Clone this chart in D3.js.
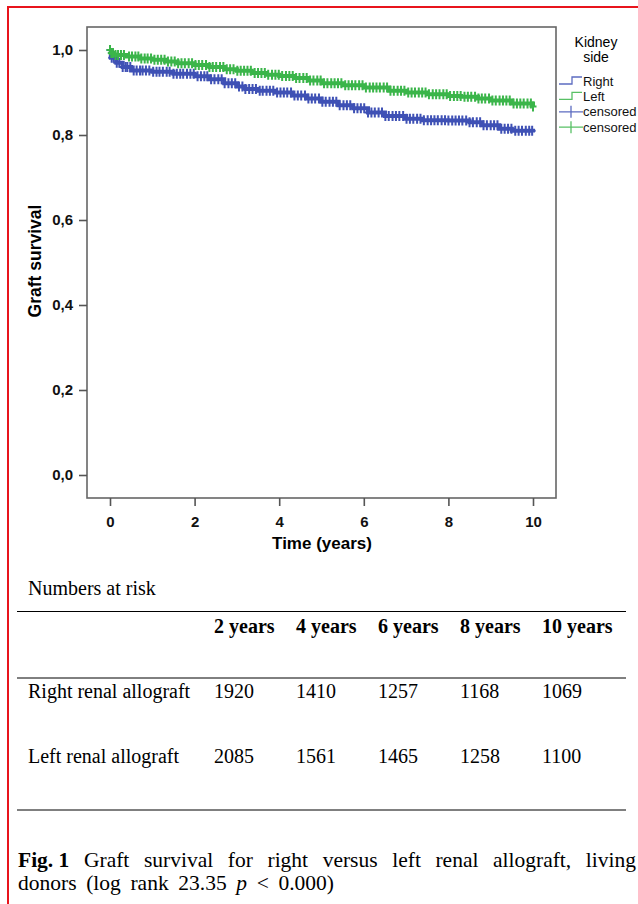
<!DOCTYPE html>
<html>
<head>
<meta charset="utf-8">
<script src="https://cdn.jsdelivr.net/npm/d3@7"></script>
<style>
body { margin: 0; background: #fff; }
</style>
</head>
<body>
<svg width="638" height="904"></svg>
<script>
// Kaplan-Meier steps
var rightTime = [0, 0.02, 0.15, 0.3, 0.5, 1.0, 1.5, 2.0, 2.35, 2.7, 3.0, 3.2, 3.5, 3.9, 4.3, 4.65, 5.0, 5.4, 5.75, 6.1, 6.5, 7.0, 7.4, 8.0, 8.5, 8.8, 9.2, 9.5, 10.0];
var rightSurv = [1.0, 0.982, 0.970, 0.960, 0.952, 0.949, 0.944, 0.938, 0.931, 0.922, 0.914, 0.908, 0.904, 0.900, 0.893, 0.886, 0.878, 0.870, 0.863, 0.853, 0.845, 0.838, 0.835, 0.834, 0.830, 0.823, 0.815, 0.810, 0.806];
var leftTime = [0, 0.02, 0.1, 0.4, 0.7, 1.0, 1.3, 1.6, 2.0, 2.35, 2.7, 3.0, 3.35, 3.7, 4.0, 4.35, 4.7, 5.0, 5.5, 6.0, 6.6, 7.0, 7.5, 8.0, 8.3, 8.7, 9.0, 9.5, 10.0];
var leftSurv = [1.0, 0.993, 0.988, 0.985, 0.980, 0.977, 0.973, 0.969, 0.965, 0.960, 0.955, 0.951, 0.946, 0.942, 0.939, 0.934, 0.928, 0.922, 0.917, 0.912, 0.904, 0.900, 0.896, 0.892, 0.890, 0.886, 0.881, 0.874, 0.867];

// censoring times
var rightCensor = [0.0, 0.04, 0.09, 0.16, 0.22, 0.3, 0.37, 0.41, 0.48, 0.56, 0.63, 0.71, 0.77, 0.85, 0.93, 1.02, 1.1, 1.17, 1.25, 1.34, 1.41, 1.5, 1.58, 1.66, 1.73, 1.82, 1.9, 1.98, 2.07, 2.15, 2.23, 2.3, 2.39, 2.47, 2.56, 2.64, 2.71, 2.8, 2.88, 2.96, 3.05, 3.13, 3.2, 3.29, 3.37, 3.45, 3.54, 3.61, 3.7, 3.78, 3.86, 3.95, 4.03, 4.11, 4.19, 4.28, 4.36, 4.44, 4.52, 4.61, 4.69, 4.77, 4.85, 4.94, 5.02, 5.1, 5.19, 5.27, 5.35, 5.43, 5.52, 5.6, 5.68, 5.77, 5.85, 5.93, 6.01, 6.1, 6.18, 6.26, 6.35, 6.43, 6.51, 6.59, 6.68, 6.76, 6.84, 6.93, 7.01, 7.09, 7.17, 7.26, 7.34, 7.42, 7.51, 7.59, 7.67, 7.75, 7.84, 7.92, 8.0, 8.09, 8.17, 8.25, 8.33, 8.42, 8.5, 8.58, 8.67, 8.75, 8.83, 8.91, 9.0, 9.08, 9.16, 9.25, 9.33, 9.41, 9.49, 9.58, 9.66, 9.74, 9.83, 9.91, 9.98];
var leftCensor = [0.0, 0.03, 0.07, 0.13, 0.19, 0.26, 0.33, 0.45, 0.52, 0.6, 0.67, 0.74, 0.82, 0.89, 0.97, 1.05, 1.13, 1.21, 1.29, 1.37, 1.45, 1.53, 1.61, 1.69, 1.77, 1.86, 1.94, 2.02, 2.1, 2.18, 2.27, 2.35, 2.43, 2.51, 2.6, 2.68, 2.76, 2.84, 2.92, 3.01, 3.09, 3.17, 3.25, 3.33, 3.42, 3.5, 3.58, 3.66, 3.74, 3.83, 3.91, 3.99, 4.07, 4.16, 4.24, 4.32, 4.4, 4.48, 4.57, 4.65, 4.73, 4.81, 4.9, 4.98, 5.06, 5.14, 5.23, 5.31, 5.39, 5.47, 5.56, 5.64, 5.72, 5.8, 5.89, 5.97, 6.05, 6.14, 6.22, 6.3, 6.38, 6.47, 6.55, 6.63, 6.71, 6.8, 6.88, 6.96, 7.05, 7.13, 7.21, 7.3, 7.38, 7.46, 7.54, 7.63, 7.71, 7.79, 7.88, 7.96, 8.04, 8.13, 8.21, 8.29, 8.38, 8.46, 8.54, 8.63, 8.71, 8.79, 8.87, 8.96, 9.04, 9.12, 9.21, 9.29, 9.37, 9.45, 9.54, 9.62, 9.7, 9.78, 9.87, 9.95, 10.0];

var xTicks = [0, 2, 4, 6, 8, 10];
var yTicks = [0, 0.2, 0.4, 0.6, 0.8, 1.0];
var legendLabels = ["Right", "Left", "censored", "censored"];

var riskCols = ["2 years", "4 years", "6 years", "8 years", "10 years"];
var riskRows = ["Right renal allograft", "Left renal allograft"];
var rightRisk = [1920, 1410, 1257, 1168, 1069];
var leftRisk = [2085, 1561, 1465, 1258, 1100];

var blue = "#3f51b5", green = "#3bb54a";

function main() {
	var svg = d3.select("svg");
	var sans = "Arial, 'Liberation Sans', sans-serif";
	var serif = "'Times New Roman', 'Liberation Serif', serif";

	// red frame of the figure
	svg.append("path").attr("d", "M8,904V7H638").attr("fill", "none")
		.attr("stroke", "#e8141c").attr("stroke-width", 2);

	var x = d3.scaleLinear().domain([0, 10]).range([110, 533]),
		y = d3.scaleLinear().domain([0, 1]).range([475, 50]);

	svg.append("rect").attr("x", 87).attr("y", 27).attr("width", 469).attr("height", 471)
		.attr("fill", "none").attr("stroke", "#666").attr("stroke-width", 1.6);

	var gy = svg.append("g").attr("transform", "translate(87,0)")
		.call(d3.axisLeft(y).tickValues(yTicks).tickSize(8).tickPadding(6)
			.tickFormat(function(d){ return d3.format(".1f")(d).replace(".", ","); }));
	var gx = svg.append("g").attr("transform", "translate(0,498)")
		.call(d3.axisBottom(x).tickValues(xTicks).tickSize(8).tickPadding(10));
	[gx, gy].forEach(function(g){
		g.select(".domain").remove();
		g.selectAll("line").attr("stroke", "#555").attr("stroke-width", 1.6);
		g.selectAll("text").attr("font-family", sans).attr("font-size", "15px")
			.attr("font-weight", "bold").attr("fill", "#111");
	});

	svg.append("text").attr("x", 322).attr("y", 549).attr("text-anchor", "middle")
		.attr("font-family", sans).attr("font-size", "17px").attr("font-weight", "bold")
		.text("Time (years)");
	svg.append("text").attr("transform", "translate(41,261) rotate(-90)").attr("text-anchor", "middle")
		.attr("font-family", sans).attr("font-size", "17.5px").attr("font-weight", "bold")
		.text("Graft survival");

	var series = [
		{ t: rightTime, s: rightSurv, c: rightCensor, color: blue },
		{ t: leftTime, s: leftSurv, c: leftCensor, color: green }
	];
	var line = d3.line().curve(d3.curveStepAfter)
		.x(function(d){ return x(d[0]); }).y(function(d){ return y(d[1]); });

	series.forEach(function(sr){
		var pts = sr.t.map(function(t, i){ return [t, sr.s[i]]; });
		svg.append("path").datum(pts).attr("d", line).attr("fill", "none")
			.attr("stroke", sr.color).attr("stroke-width", 4);
		var bis = d3.bisector(function(d){ return d; }).right;
		svg.append("g").selectAll("path").data(sr.c).enter().append("path")
			.attr("d", function(t){
				var i = Math.max(0, bis(sr.t, t) - 1);
				var px = x(t), py = y(sr.s[i]);
				return "M" + (px - 3.5) + "," + py + "H" + (px + 3.5) + "M" + px + "," + (py - 5) + "V" + (py + 5);
			})
			.attr("stroke", sr.color).attr("stroke-width", 2).attr("fill", "none");
	});

	// legend
	var lg = svg.append("g");
	lg.append("text").attr("x", 596).attr("y", 47).attr("text-anchor", "middle")
		.attr("font-family", sans).attr("font-size", "14px").text("Kidney");
	lg.append("text").attr("x", 596).attr("y", 62).attr("text-anchor", "middle")
		.attr("font-family", sans).attr("font-size", "14px").text("side");
	var legColors = [blue, green, blue, green];
	legendLabels.forEach(function(lab, i){
		var ly = 81 + i * 15.4;
		if (i < 2) {
			lg.append("path").attr("d", "M559," + (ly + 3) + "H572V" + (ly - 4) + "H582")
				.attr("fill", "none").attr("stroke", legColors[i]).attr("stroke-width", 1.3).attr("opacity", 0.85);
		} else {
			lg.append("path").attr("d", "M559," + ly + "H583M571," + (ly - 6) + "V" + (ly + 6))
				.attr("fill", "none").attr("stroke", legColors[i]).attr("stroke-width", 1.3).attr("opacity", 0.85);
		}
		lg.append("text").attr("x", 583).attr("y", ly + 4.5)
			.attr("font-family", sans).attr("font-size", "13px").attr("fill", "#111").text(lab);
	});

	// numbers at risk table
	svg.append("text").attr("x", 28).attr("y", 595).attr("font-family", serif)
		.attr("font-size", "20px").text("Numbers at risk");
	[611.5, 678, 810].forEach(function(ly){
		svg.append("line").attr("x1", 17).attr("x2", 626).attr("y1", ly).attr("y2", ly)
			.attr("stroke", "#000").attr("stroke-width", 1);
	});
	var colX = d3.scalePoint().domain(riskCols).range([214, 542]);
	svg.append("g").selectAll("text").data(riskCols).enter().append("text")
		.attr("x", function(d){ return colX(d); }).attr("y", 633)
		.attr("font-family", serif).attr("font-size", "20px").attr("font-weight", "bold")
		.text(function(d){ return d; });
	[rightRisk, leftRisk].forEach(function(vals, r){
		var ry = 698 + r * 65;
		svg.append("text").attr("x", 28).attr("y", ry).attr("font-family", serif)
			.attr("font-size", "20px").text(riskRows[r]);
		svg.append("g").selectAll("text").data(vals).enter().append("text")
			.attr("x", function(d, i){ return colX(riskCols[i]); }).attr("y", ry)
			.attr("font-family", serif).attr("font-size", "20px").text(function(d){ return d; });
	});

	// caption, first line justified word by word
	var words = ["Fig. 1", "Graft", "survival", "for", "right", "versus", "left", "renal", "allograft,", "living"];
	var wn = words.map(function(wd, i){
		return svg.append("text").attr("y", 867).attr("font-family", serif).attr("font-size", "21.5px")
			.attr("font-weight", i === 0 ? "bold" : null).text(wd);
	});
	var widths = wn.map(function(n){ return n.node().getComputedTextLength(); });
	var gap = (636 - 18 - d3.sum(widths)) / (words.length - 1);
	var cx = 18;
	wn.forEach(function(n, i){ n.attr("x", cx); cx += widths[i] + gap; });

	var cap2 = svg.append("text").attr("x", 18).attr("y", 890).attr("font-family", serif)
		.attr("font-size", "21.5px");
	cap2.append("tspan").text("donors (log rank 23.35 ");
	cap2.append("tspan").attr("font-style", "italic").text("p");
	cap2.append("tspan").text(" < 0.000)");
	var w2 = cap2.node().getComputedTextLength();
	cap2.attr("word-spacing", Math.max(0, (334 - 18 - w2) / 6) + "px");
}
main();
</script>
</body>
</html>
